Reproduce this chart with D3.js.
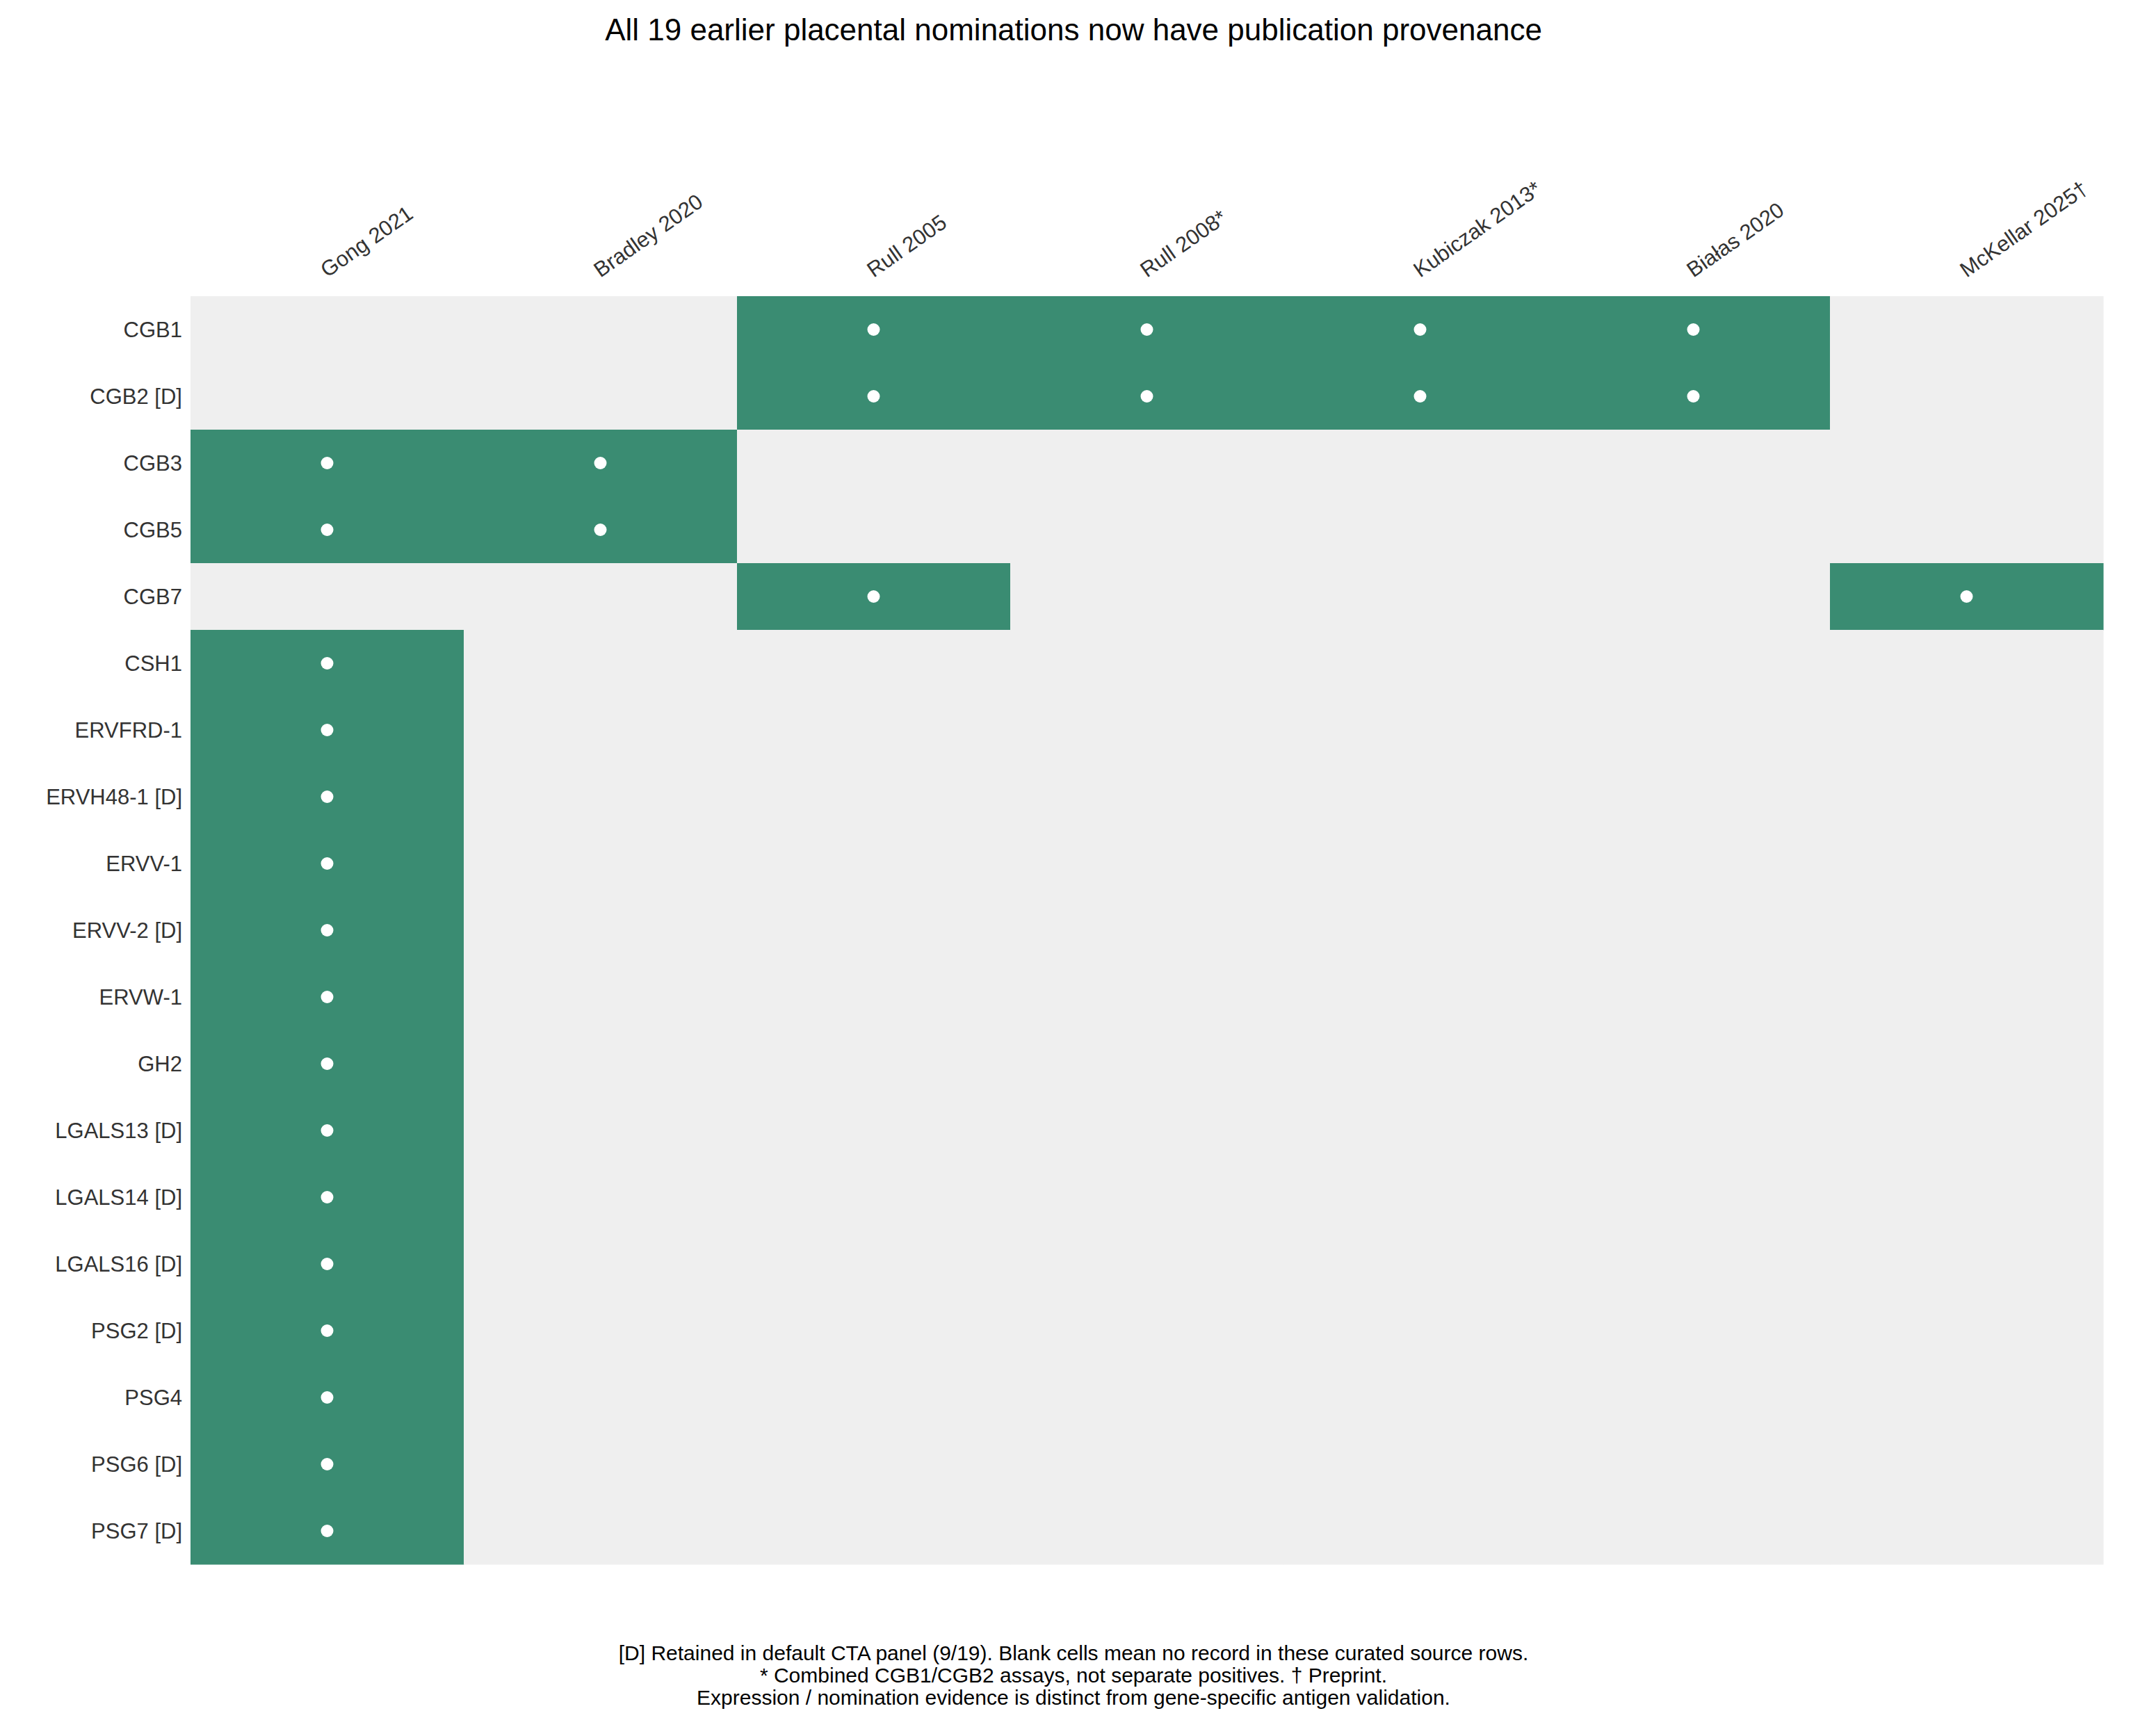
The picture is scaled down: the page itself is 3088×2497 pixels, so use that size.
<!DOCTYPE html>
<html>
<head>
<meta charset="utf-8">
<script src="https://cdn.jsdelivr.net/npm/d3@7"></script>
<style>
  body { margin: 0; background: #fff; }
  text { font-family: "Liberation Sans", Arial, sans-serif; }
</style>
</head>
<body>
<svg id="chart" width="3088" height="2497"></svg>
<script>
// Columns (sources) and rows (genes)
var sources = ["Gong 2021", "Bradley 2020", "Rull 2005", "Rull 2008*", "Kubiczak 2013*", "Białas 2020", "McKellar 2025†"];
var genes = ["CGB1", "CGB2 [D]", "CGB3", "CGB5", "CGB7", "CSH1", "ERVFRD-1", "ERVH48-1 [D]", "ERVV-1",
  "ERVV-2 [D]", "ERVW-1", "GH2", "LGALS13 [D]", "LGALS14 [D]", "LGALS16 [D]", "PSG2 [D]", "PSG4", "PSG6 [D]", "PSG7 [D]"];
// Which sources record each gene (index into sources)
var records = [
  [2, 3, 4, 5],
  [2, 3, 4, 5],
  [0, 1],
  [0, 1],
  [2, 6],
  [0], [0], [0], [0], [0], [0], [0], [0], [0], [0], [0], [0], [0], [0]
];
var footnotes = [
  "[D] Retained in default CTA panel (9/19). Blank cells mean no record in these curated source rows.",
  "* Combined CGB1/CGB2 assays, not separate positives. † Preprint.",
  "Expression / nomination evidence is distinct from gene-specific antigen validation."
];

var svg = d3.select("#chart");
var m = {left: 274, top: 426, right: 3025, bottom: 2250};

var x = d3.scaleBand().domain(sources).range([m.left, m.right]);
var y = d3.scaleBand().domain(genes).range([m.top, m.bottom]);

// Cells
var cells = [];
genes.forEach(function(g, i) {
  sources.forEach(function(s, j) {
    cells.push({gene: g, source: s, on: records[i].indexOf(j) >= 0});
  });
});
svg.append("g").selectAll("rect").data(cells).join("rect")
  .attr("x", function(d) { return x(d.source); })
  .attr("y", function(d) { return y(d.gene); })
  .attr("width", x.bandwidth() + 0.5)
  .attr("height", y.bandwidth() + 0.5)
  .attr("fill", function(d) { return d.on ? "#3a8c72" : "#efefef"; });

svg.append("g").selectAll("circle").data(cells.filter(function(d) { return d.on; })).join("circle")
  .attr("cx", function(d) { return x(d.source) + x.bandwidth() / 2; })
  .attr("cy", function(d) { return y(d.gene) + y.bandwidth() / 2; })
  .attr("r", 9)
  .attr("fill", "#fff");

// Row labels
svg.append("g").selectAll("text").data(genes).join("text")
  .attr("x", m.left - 12)
  .attr("y", function(d) { return y(d) + y.bandwidth() / 2; })
  .attr("dy", "0.35em")
  .attr("text-anchor", "end")
  .attr("font-size", 31)
  .attr("fill", "#333")
  .text(function(d) { return d; });

// Column labels
svg.append("g").selectAll("text").data(sources).join("text")
  .attr("transform", function(d) { return "translate(" + (x(d) + x.bandwidth() / 2) + ",400) rotate(-35)"; })
  .attr("text-anchor", "start")
  .attr("font-size", 31)
  .attr("fill", "#333")
  .text(function(d) { return d; });

// Title
svg.append("text")
  .attr("x", 1544).attr("y", 58)
  .attr("text-anchor", "middle")
  .attr("font-size", 44)
  .attr("fill", "#000")
  .text("All 19 earlier placental nominations now have publication provenance");

// Footnotes
svg.append("g").selectAll("text").data(footnotes).join("text")
  .attr("x", 1544)
  .attr("y", function(d, i) { return 2388 + i * 32; })
  .attr("text-anchor", "middle")
  .attr("font-size", 30)
  .attr("fill", "#000")
  .text(function(d) { return d; });
</script>
</body>
</html>
